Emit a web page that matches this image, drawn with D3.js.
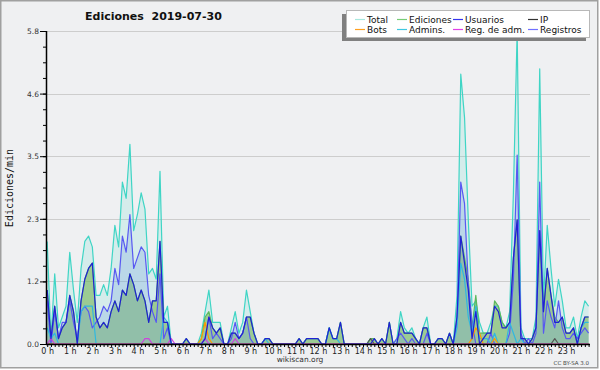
<!DOCTYPE html>
<html>
<head>
<meta charset="utf-8">
<script src="https://cdn.jsdelivr.net/npm/d3@7"></script>
<style>
  body { margin: 0; background: #fff; }
  svg { display: block; }
  text { font-family: "DejaVu Sans", sans-serif; }
</style>
</head>
<body>
<svg width="600" height="370"></svg>
<script>
// one value every 10 minutes, 00:00 .. 24:00 (145 points), edits per minute
var total = [
  1.9,0.1,1.3,0.3,0.5,0.7,1.7,1.0,0.4,1.4,1.9,2.0,
  1.8,0.9,0.9,1.1,0.9,1.4,2.2,1.8,3.0,2.7,3.7,2.1,
  2.4,2.8,2.5,1.3,1.4,1.2,3.2,0.5,0.7,0,0,0,
  0,0.1,0,0,0,0.2,0.6,1.0,0.4,0.4,0.4,0,
  0,0.3,0.6,0.2,0.4,1.0,0.6,0.2,0,0,0.1,0.1,
  0,0,0,0,0,0,0,0.1,0,0.1,0.1,0.1,
  0.1,0,0,0.3,0.1,0.1,0.4,0,0,0,0,0,
  0,0,0.1,0.1,0,0.1,0,0.4,0,0.1,0.6,0.3,
  0.2,0.3,0.1,0,0.3,0.5,0,0,0.1,0.1,0,0.2,
  0,0.9,5.0,4.2,2.3,0.7,0.8,0.4,0.2,0.2,0.4,0.7,
  0.7,0.4,0.3,0.6,2.8,5.8,0.3,0.1,0.1,0.1,0.5,5.1,
  0.8,2.2,1.4,0.7,1.2,0.8,0.3,0.3,0.5,0.1,0.5,0.8,
  0.7];

var ediciones = [
  1.0,0.1,0.7,0.1,0.3,0.4,0.9,0.6,0,0.8,1.2,1.4,
  1.5,0.5,0.3,0.4,0.3,0.6,0.8,0.6,1.0,0.9,1.3,1.1,
  0.8,1.0,0.8,0.4,0.8,0.8,1.9,0.4,0.4,0,0,0,
  0,0.1,0,0,0,0.1,0.5,0.6,0.3,0.2,0.3,0,
  0,0.2,0.2,0.1,0.2,0.5,0.5,0.2,0,0,0.1,0.1,
  0,0,0,0,0,0,0,0.1,0,0.1,0.1,0.1,
  0.1,0,0,0.3,0.1,0.1,0.4,0,0,0,0,0,
  0,0,0.1,0.1,0,0.1,0,0.4,0,0,0.4,0.2,
  0.2,0.2,0.1,0,0.3,0.3,0,0,0.1,0.1,0,0.2,
  0,0.5,2.0,1.6,1.2,0.3,0.9,0.2,0.2,0.2,0.2,0.8,
  0.7,0.4,0.3,0.4,1.6,2.3,0.1,0.1,0,0.1,0.3,2.1,
  0.6,1.4,0.9,0.5,0.4,0.5,0.2,0.2,0.3,0,0.3,0.5,
  0.5];

var usuarios = [
  1.0,0.1,0.7,0.1,0.3,0.4,0.9,0.6,0,0.8,1.2,1.4,
  1.5,0.5,0.3,0.4,0.3,0.6,0.8,0.6,1.0,0.9,1.3,1.1,
  0.8,1.0,0.8,0.4,0.8,0.8,1.9,0.4,0.4,0,0,0,
  0,0.1,0,0,0,0,0.1,0.5,0.3,0.2,0.3,0,
  0,0.2,0.2,0.1,0.2,0.5,0.5,0.2,0,0,0.1,0.1,
  0,0,0,0,0,0,0,0.1,0,0.1,0.1,0.1,
  0.1,0,0,0.3,0.1,0.1,0.4,0,0,0,0,0,
  0,0,0,0.1,0,0.1,0,0.4,0,0,0.4,0.2,
  0.2,0.2,0.1,0,0.3,0.3,0,0,0.1,0.1,0,0.2,
  0,0.5,2.0,1.5,1.0,0.1,0.6,0,0.1,0.2,0.2,0.7,
  0.6,0.3,0.3,0.4,1.6,2.3,0.1,0.1,0,0.1,0.3,2.1,
  0.6,1.4,0.9,0.4,0.4,0.5,0.2,0.2,0.3,0,0.3,0.5,
  0.5];

var ip = [
  0,0,0,0,0,0,0,0,0,0,0,0,
  0,0,0,0,0,0,0,0,0,0,0,0,
  0,0,0,0,0,0,0,0,0,0,0,0,
  0,0,0,0,0,0,0,0,0,0,0,0,
  0,0,0,0,0,0,0,0,0,0,0,0,
  0,0,0,0,0,0,0,0,0,0,0,0,
  0,0,0,0,0,0,0,0,0,0,0,0,
  0,0,0.1,0,0,0,0,0,0,0,0,0,
  0,0,0,0,0,0,0,0,0,0,0,0,
  0,0,0,0,0,0,0,0,0,0,0,0,
  0,0,0,0,0,0,0,0,0,0,0,0,
  0,0,0,0.1,0,0,0,0,0,0,0,0,
  0];

var bots = [
  0,0,0,0,0,0,0,0,0,0,0,0,
  0,0,0,0,0,0,0,0,0,0,0,0,
  0,0,0,0,0,0,0,0,0,0,0,0,
  0,0,0,0,0,0.1,0.4,0.1,0,0,0,0,
  0,0,0,0,0,0,0,0,0,0,0,0,
  0,0,0,0,0,0,0,0,0,0,0,0,
  0,0,0,0,0,0,0,0,0,0,0,0,
  0,0,0,0,0,0,0,0,0,0,0,0,
  0,0,0,0,0,0,0,0,0,0,0,0,
  0,0,0,0,0,0.1,0.3,0.2,0,0,0,0.1,
  0,0,0,0,0,0,0,0,0,0,0,0,
  0,0,0,0,0,0,0,0,0,0,0,0,
  0];

var admins = [
  0.3,0.1,0.2,0,0,0,0,0,0,0.6,0.7,0.7,
  0.7,0,0,0,0,0,0,0,0,0,0,0,
  0,0,0,0,0,0,0,0.5,0.4,0,0,0,
  0,0,0,0,0,0,0,0,0,0,0,0,
  0,0,0,0,0,0,0,0,0,0,0.1,0,
  0,0,0,0,0,0,0,0,0,0,0,0,
  0,0,0,0.3,0.1,0.1,0,0,0,0,0,0,
  0,0,0,0,0,0,0,0,0,0,0,0,
  0,0,0,0,0,0,0,0,0,0,0,0,
  0,0.3,1.5,1.2,0.5,0.2,0.7,0.1,0.1,0.1,0,0.2,
  0,0,0,0.4,0.2,0,0.1,0,0,0,0,0,
  0,0,0,0,0,0,0,0,0,0,0.3,0.4,
  0.4];

var regAdm = [
  0,0.1,0,0,0,0,0,0,0,0,0,0,
  0,0,0,0,0,0,0,0,0,0,0,0,
  0,0,0.1,0.1,0,0,0,0,0,0.1,0,0,
  0,0,0,0,0,0,0.1,0,0,0,0,0,
  0,0,0.1,0,0,0,0,0,0,0,0,0,
  0,0,0,0,0,0,0,0,0,0,0,0,
  0,0,0,0,0,0,0,0,0,0,0,0,
  0,0,0,0,0,0,0,0,0,0,0,0,
  0,0,0,0,0,0,0,0,0,0,0,0,
  0,0,0,0,0,0,0,0,0,0,0,0,
  0,0,0,0,0,0,0,0,0,0,0,0,
  0,0,0,0,0,0,0,0,0,0,0,0,
  0];

var registros = [
  0.8,0,0.6,0.1,0.4,0.4,0.8,0.4,0.1,0.6,0.7,0.6,
  0.3,0.4,0.5,0.7,0.6,0.8,1.4,1.1,2.0,1.7,2.4,1.4,
  1.6,1.8,1.7,0.9,0.6,0.4,1.3,0.1,0.3,0,0,0,
  0,0,0,0,0,0,0.1,0.5,0.1,0.2,0.1,0,
  0,0.1,0.4,0.1,0.2,0.5,0.1,0,0,0,0,0,
  0,0,0,0,0,0,0,0,0,0,0,0,
  0,0,0,0,0,0,0,0,0,0,0,0,
  0,0,0,0,0,0,0,0,0,0.1,0.2,0.1,
  0,0.1,0,0,0,0.2,0,0,0,0,0,0,
  0,0.4,3.0,2.6,1.1,0.4,0,0,0,0,0.2,0,
  0,0,0,0.2,1.2,3.5,0.2,0,0.1,0,0.2,3.0,
  0.2,0.8,0.5,0.3,0.8,0.3,0.1,0.1,0.2,0.1,0.2,0.3,
  0.2];

var hourLabels = ["0 h","1 h","2 h","3 h","4 h","5 h","6 h","7 h","8 h","9 h","10 h","11 h",
                  "12 h","13 h","14 h","15 h","16 h","17 h","18 h","19 h","20 h","21 h","22 h","23 h"];
var yMax = 5.8;
var yLabels = ["0.0","1.2","2.3","3.5","4.6","5.8"];

var legendNames  = ["Total","Ediciones","Usuarios","IP","Bots","Admins.","Reg. de adm.","Registros"];
var legendColors = ["#a8e8de","#77cc77","#3535ee","#333333","#ffa020","#40c8e0","#e040e8","#7070ff"];

var svg = d3.select("svg");

svg.append("rect")
  .attr("x", 0.75).attr("y", 0.75).attr("width", 597).attr("height", 367)
  .attr("fill", "#eff0f2").attr("stroke", "#a0a0a0").attr("stroke-width", 1.5);

var x = d3.scaleLinear().domain([0, 144]).range([47.2, 588.6]),
    y = d3.scaleLinear().domain([0, yMax]).range([344, 31]);

// horizontal grid at the labelled ticks
var major = yLabels.map(function(d, i) { return i * yMax / 5; });
svg.append("g").selectAll("line")
  .data(major.slice(1))
  .enter().append("line")
    .attr("x1", 47).attr("x2", 590)
    .attr("y1", function(d) { return Math.round(y(d)) + 0.5; })
    .attr("y2", function(d) { return Math.round(y(d)) + 0.5; })
    .attr("stroke", "#cdcdcd");

// filled areas
function area(vals) {
  return d3.area()
    .x(function(d, i) { return x(i); })
    .y0(y(0))
    .y1(function(d) { return y(d); })(vals);
}
svg.append("path").attr("d", area(total)).attr("fill", "#3cd6c6").attr("fill-opacity", 0.14);
svg.append("path").attr("d", area(ediciones)).attr("fill", "#64aa3c").attr("fill-opacity", 0.5);
svg.append("path").attr("d", area(registros)).attr("fill", "#78a0e1").attr("fill-opacity", 0.28);

// lines
var line = d3.line()
  .x(function(d, i) { return x(i); })
  .y(function(d) { return y(d); });

var series = [
  [total, "#3fd5c5"],
  [ediciones, "#5cb85c"],
  [registros, "#5858f2"],
  [admins, "#30b8e0"],
  [bots, "#ff9a00"],
  [ip, "#555555"],
  [regAdm, "#cc44dd"],
  [usuarios, "#2020d4"]
];
series.forEach(function(s) {
  svg.append("path")
    .attr("d", line(s[0]))
    .attr("fill", "none")
    .attr("stroke", s[1])
    .attr("stroke-width", 1.2)
    .attr("stroke-linejoin", "round");
});

// x axis: a tick every 10 minutes, labels every hour
var xAxis = svg.append("g")
  .attr("transform", "translate(0,344)")
  .call(d3.axisBottom(x)
    .tickValues(d3.range(0, 145))
    .tickSize(3)
    .tickPadding(1)
    .tickFormat(function(d) { return d % 6 === 0 && d < 144 ? hourLabels[d / 6] : ""; }));
xAxis.select(".domain").remove();
xAxis.selectAll("line").attr("stroke", "#000");
xAxis.selectAll("text").attr("font-size", 8).attr("fill", "#222")
  .attr("font-family", "DejaVu Sans, sans-serif");

svg.append("line")
  .attr("x1", 46).attr("x2", 590).attr("y1", 344.5).attr("y2", 344.5)
  .attr("stroke", "#000").attr("stroke-width", 1.5);

// y axis
var yMinor = svg.append("g")
  .attr("transform", "translate(46,0)")
  .call(d3.axisLeft(y).tickValues(d3.range(0, 21).map(function(k) { return k * yMax / 20; }))
    .tickSize(3).tickFormat(""));
yMinor.select(".domain").remove();

var yAxis = svg.append("g")
  .attr("transform", "translate(46,0)")
  .call(d3.axisLeft(y).tickValues(major).tickSize(6).tickPadding(1)
    .tickFormat(function(d, i) { return yLabels[i]; }));
yAxis.select(".domain").remove();
yAxis.selectAll("text").attr("font-size", 7.5).attr("fill", "#333")
  .attr("font-family", "DejaVu Sans, sans-serif");

svg.append("line")
  .attr("x1", 46.5).attr("x2", 46.5).attr("y1", 31).attr("y2", 345)
  .attr("stroke", "#000").attr("stroke-width", 1.5);

// titles
svg.append("text")
  .attr("x", 85).attr("y", 20)
  .attr("font-size", 11).attr("font-weight", "bold").attr("fill", "#111")
  .text("Ediciones  2019-07-30").style("white-space", "pre");

svg.append("text")
  .attr("transform", "translate(13,188) rotate(-90)")
  .attr("text-anchor", "middle")
  .attr("font-size", 10).attr("fill", "#111")
  .style("font-family", "DejaVu Sans Mono, monospace")
  .text("Ediciones/min");

svg.append("text")
  .attr("x", 300).attr("y", 362).attr("text-anchor", "middle")
  .attr("font-size", 7.5).attr("fill", "#333")
  .text("wikiscan.org");

svg.append("text")
  .attr("x", 589).attr("y", 365).attr("text-anchor", "end")
  .attr("font-size", 5.5).attr("fill", "#444")
  .text("CC BY-SA 3.0");

// legend
var legend = svg.append("g");
legend.append("rect")
  .attr("x", 342).attr("y", 14).attr("width", 244).attr("height", 27)
  .attr("fill", "#808080");
legend.append("rect")
  .attr("x", 346.5).attr("y", 10.5).attr("width", 243).attr("height", 27)
  .attr("fill", "#fff").attr("stroke", "#b8b8b8");

var colX = [355, 397, 453, 528];
var rowY = [19.5, 29.5];
legendNames.forEach(function(name, k) {
  var cx = colX[k % 4], cy = rowY[Math.floor(k / 4)];
  legend.append("line")
    .attr("x1", cx).attr("x2", cx + 10).attr("y1", cy).attr("y2", cy)
    .attr("stroke", legendColors[k]).attr("stroke-width", 1.2);
  legend.append("text")
    .attr("x", cx + 12).attr("y", cy + 3.5)
    .attr("font-size", 9).attr("fill", "#111")
    .text(name);
});
</script>
</body>
</html>
